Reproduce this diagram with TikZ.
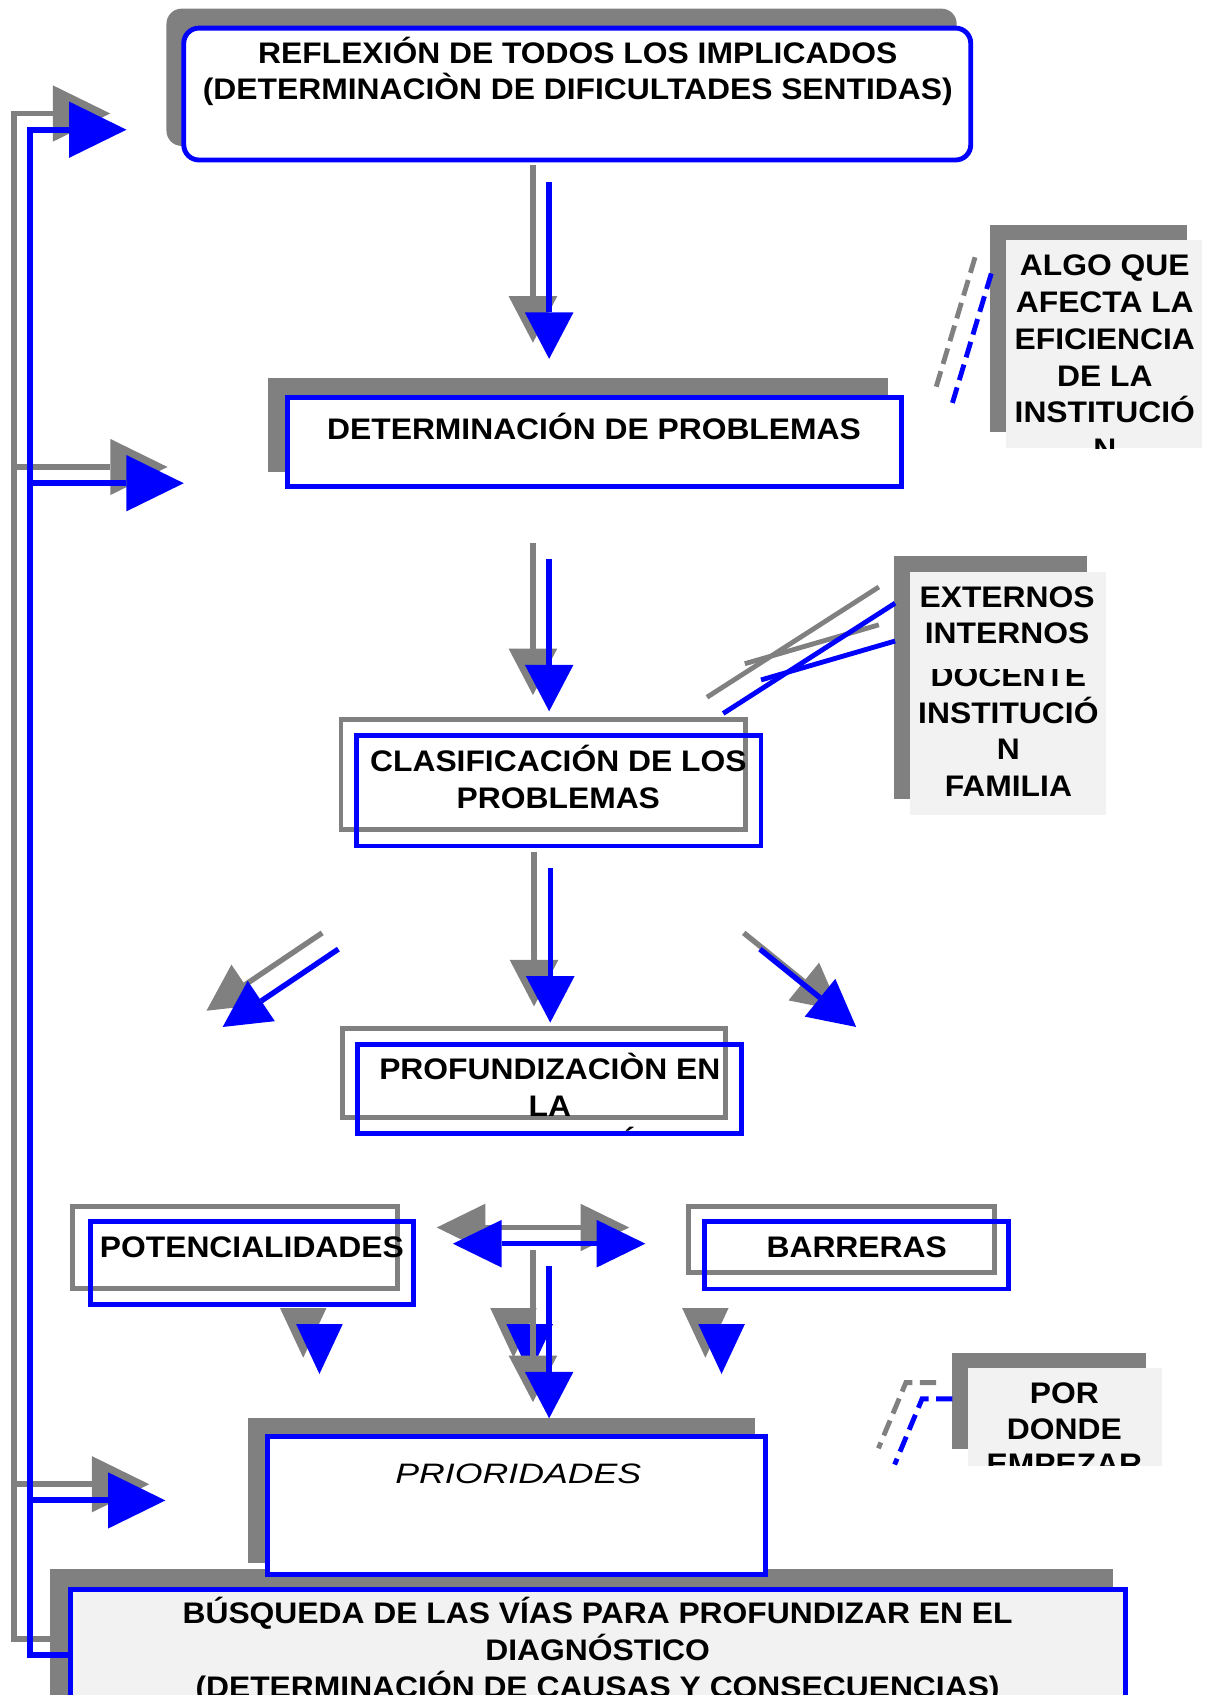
\documentclass[tikz,border=0pt]{standalone}
\usepackage{fontspec}
\setmainfont{Liberation Sans}[FakeStretch=1.07]
\newfontfamily\priofont{Liberation Sans}[FakeStretch=1.27]
\usetikzlibrary{arrows.meta}
\definecolor{notefill}{HTML}{F2F2F2}

\begin{document}
\begin{tikzpicture}[x=1pt, y=-1pt,
	shadowbox/.style={fill=gray, inner sep=0pt, outer sep=0pt},
	graybox/.style={draw=gray, line width=4.5pt, inner sep=0pt, outer sep=0pt},
	bluebox/.style={draw=blue, line width=4.5pt, inner sep=0pt, outer sep=0pt},
	notebox/.style={fill=notefill, inner sep=0pt, outer sep=0pt},
	boxtext/.style={font=\fontsize{27.5}{34.2}\selectfont\bfseries, align=center, inner sep=0pt, anchor=base},
	grayline/.style={draw=gray, line width=5pt},
	blueline/.style={draw=blue, line width=5pt},
	downtip/.style={-{Triangle[length=43pt, width=45pt, line width=0pt]}},
	sidetip/.style={-{Triangle[length=53pt, width=52pt, line width=0pt]}},
	shorttip/.style={-{Triangle[length=46pt, width=43pt, line width=0pt]}},
	bothtip/.style={{Triangle[length=45pt, width=44pt, line width=0pt]}-{Triangle[length=45pt, width=44pt, line width=0pt]}},
	dashline/.style={line width=4.5pt, dash pattern=on 15pt off 7pt},
	offs/.style={shift={(-15,-15)}}]
	\clip (0,0) rectangle (1116,1568);

	\coordinate (a1s) at (508,168);
	\coordinate (a1e) at (508,332);
	\coordinate (a2s) at (508,517);
	\coordinate (a2e) at (508,658);
	\coordinate (a3s) at (509,803);
	\coordinate (a3e) at (509,946);
	\coordinate (l1s) at (313,878);
	\coordinate (l1e) at (206,950);
	\coordinate (r1s) at (703,878);
	\coordinate (r1e) at (792,950);
	\coordinate (dbl1) at (419,1150.5);
	\coordinate (dbl2) at (597,1150.5);
	\coordinate (a4s) at (508,1171.5);
	\coordinate (a4e) at (508,1312);
	\foreach \x [count=\i] in {295.5,490,667.5} {
		\coordinate (sb\i) at (\x,1225);
		\coordinate (st\i) at (\x,1271);
	}
	\coordinate (fb0) at (63,1531);
	\coordinate (fb1) at (28,1531);
	\coordinate (fb2) at (28,120);
	\coordinate (fb3) at (117,120);
	\coordinate (fbm) at (28,447);
	\coordinate (fbmt) at (170,447);
	\coordinate (fbl) at (28,1388);
	\coordinate (fblt) at (153,1388);
	\coordinate (e1s) at (669,660);
	\coordinate (e1e) at (828,558);
	\coordinate (e2s) at (704,629);
	\coordinate (e2e) at (828,593);
	\coordinate (g1s) at (917,253);
	\coordinate (g1e) at (881,373);
	\coordinate (q1s) at (881,1294);
	\coordinate (q1m) at (853,1294);
	\coordinate (q1e) at (827.6,1354.8);

	% gray copies
	\node [shadowbox, rounded corners=14pt, minimum width=731, minimum height=127] (reflS) at (519.5,71.5) {};
	\node [shadowbox, minimum width=573, minimum height=87] (detS) at (534.5,393.5) {};
	\node [graybox, minimum width=374, minimum height=102] (clasS) at (502.4,716.5) {};
	\node [graybox, minimum width=354.5, minimum height=82.4] (profS) at (493.8,992.8) {};
	\node [graybox, minimum width=301, minimum height=76] (potS) at (217.5,1154.1) {};
	\node [graybox, minimum width=282.7, minimum height=61.1] (barS) at (778.4,1146.8) {};
	\node [shadowbox, minimum width=984, minimum height=169] (busqS) at (538,1535.5) {};
	\node [shadowbox, minimum width=468.5, minimum height=134] (prioS) at (463.8,1379) {};
	\node [shadowbox, minimum width=182, minimum height=192] (algoS) at (1007,304) {};
	\node [shadowbox, minimum width=179, minimum height=224.5] (extS) at (916.5,626.8) {};
	\node [shadowbox, minimum width=178.7, minimum height=88.5] (porS) at (970.4,1295.8) {};

	\draw [grayline, line width=5.5pt, sidetip] ([offs]fb0) -- ([offs]fb1) -- ([offs]fb2) -- ([offs]fb3);
	\draw [grayline, line width=5.5pt, sidetip] ([offs]fbm) -- ([offs]fbmt);
	\draw [grayline, line width=5.5pt, sidetip] ([offs]fbl) -- ([offs]fblt);
	\draw [grayline, downtip] ([offs]a1s) -- ([offs]a1e);
	\draw [grayline, downtip] ([offs]a2s) -- ([offs]a2e);
	\draw [grayline, downtip] ([offs]a3s) -- ([offs]a3e);
	\draw [grayline, downtip] ([offs]l1s) -- ([offs]l1e);
	\draw [grayline, downtip] ([offs]r1s) -- ([offs]r1e);
	\draw [grayline, bothtip] ([offs]dbl1) -- ([offs]dbl2);
	\foreach \i in {1,2,3}
		\draw [grayline, shorttip] ([offs]sb\i) -- ([offs]st\i);
	\foreach \i in {1,2,3}
		\draw [blueline, shorttip] (sb\i) -- (st\i);
	\draw [grayline, downtip] ([offs]a4s) -- ([offs]a4e);
	\draw [grayline, line width=4.5pt] ([offs]e1s) -- ([offs]e1e);
	\draw [grayline, line width=4.5pt] ([offs]e2s) -- ([offs]e2e);
	\draw [draw=gray, dashline] ([offs]g1s) -- ([offs]g1e);
	\draw [draw=gray, dashline] ([offs]q1s) -- ([offs]q1m) -- ([offs]q1e);

	% blue copies
	\node [bluebox, fill=white, rounded corners=14pt, minimum width=728, minimum height=122] (refl) at (534,87) {};
	\node [bluebox, fill=white, minimum width=568, minimum height=82] (det) at (550,409) {};
	\node [bluebox, minimum width=374, minimum height=102.4] (clas) at (517,731.4) {};
	\node [bluebox, minimum width=354.7, minimum height=82.4] (prof) at (508.4,1007.5) {};
	\node [bluebox, minimum width=298.2, minimum height=76.8] (pot) at (233.1,1168.6) {};
	\node [bluebox, minimum width=281.9, minimum height=62.1] (bar) at (792.3,1161.3) {};
	\node [bluebox, fill=white, minimum width=460.6, minimum height=127.6] (prio) at (477.5,1393) {};
	\node [bluebox, fill=notefill, minimum width=975.6, minimum height=169.8] (busq) at (553,1555.1) {};
	\node [notebox, minimum width=181, minimum height=192.6] (algo) at (1021.5,318.3) {};
	\node [notebox, minimum width=181, minimum height=225] (ext) at (932.5,641.5) {};
	\node [notebox, minimum width=179, minimum height=90] (por) at (985,1310.7) {};

	\draw [blueline, line width=5.5pt, sidetip] (fb0) -- (fb1) -- (fb2) -- (fb3);
	\draw [blueline, line width=5.5pt, sidetip] (fbm) -- (fbmt);
	\draw [blueline, line width=5.5pt, sidetip] (fbl) -- (fblt);
	\draw [blueline, downtip] (a1s) -- (a1e);
	\draw [blueline, downtip] (a2s) -- (a2e);
	\draw [blueline, downtip] (a3s) -- (a3e);
	\draw [blueline, downtip] (l1s) -- (l1e);
	\draw [blueline, downtip] (r1s) -- (r1e);
	\draw [blueline, bothtip] (dbl1) -- (dbl2);
	\draw [blueline, downtip] (a4s) -- (a4e);
	\draw [blueline, line width=4.5pt] (e1s) -- (e1e);
	\draw [blueline, line width=4.5pt] (e2s) -- (e2e);
	\draw [draw=blue, dashline] (g1s) -- (g1e);
	\draw [draw=blue, dashline] (q1s) -- (q1m) -- (q1e);

	% texts (base = last line)
	\node [boxtext] (reflT) at (534.5,92.5) {REFLEXIÓN DE TODOS LOS IMPLICADOS\\(DETERMINACIÒN DE DIFICULTADES SENTIDAS)};
	\node [boxtext] (detT) at (549.5,407) {DETERMINACIÓN DE PROBLEMAS};
	\node [boxtext] (clasT) at (516.5,748) {CLASIFICACIÓN DE LOS\\PROBLEMAS};
	\begin{scope}
		\clip (300,940) rectangle (700,1046);
		\node [boxtext] (profT) at (508.6,1067.4) {PROFUNDIZACIÒN EN\\LA\\INFORMACIÓN};
	\end{scope}
	\node [boxtext] (potT) at (233,1163.5) {POTENCIALIDADES};
	\node [boxtext] (barT) at (792.5,1163.5) {BARRERAS};
	\node [anchor=base, inner sep=0pt, font={\priofont\fontsize{26}{30}\selectfont\itshape}] (prioT) at (479.5,1372.7) {PRIORIDADES};
	\node [boxtext] (busqT) at (552.8,1570.4) {BÚSQUEDA DE LAS VÍAS PARA PROFUNDIZAR EN EL\\DIAGNÓSTICO\\(DETERMINACIÓN DE CAUSAS Y CONSECUENCIAS)};
	\begin{scope}
		\clip (algo.north west) rectangle (algo.south east);
		\node [boxtext, font=\fontsize{27.5}{34}\selectfont\bfseries] (algoT) at (1022,425.3) {ALGO QUE\\AFECTA LA\\EFICIENCIA\\DE LA\\INSTITUCIÓ\\N};
	\end{scope}
	\node [boxtext, font=\fontsize{27.5}{34}\selectfont\bfseries] (extT) at (931.6,595.7) {EXTERNOS\\INTERNOS};
	\begin{scope}
		\clip (842,619.5) rectangle (1023,754);
		\node [boxtext, font=\fontsize{27.5}{34}\selectfont\bfseries] (docT) at (932.8,737) {DOCENTE\\INSTITUCIÓ\\N\\FAMILIA};
	\end{scope}
	\begin{scope}
		\clip (por.north west) rectangle (por.south east);
		\node [boxtext, font=\fontsize{27.5}{32.5}\selectfont\bfseries] (porT) at (984.6,1363.7) {POR\\DONDE\\EMPEZAR};
	\end{scope}
\end{tikzpicture}
\end{document}
